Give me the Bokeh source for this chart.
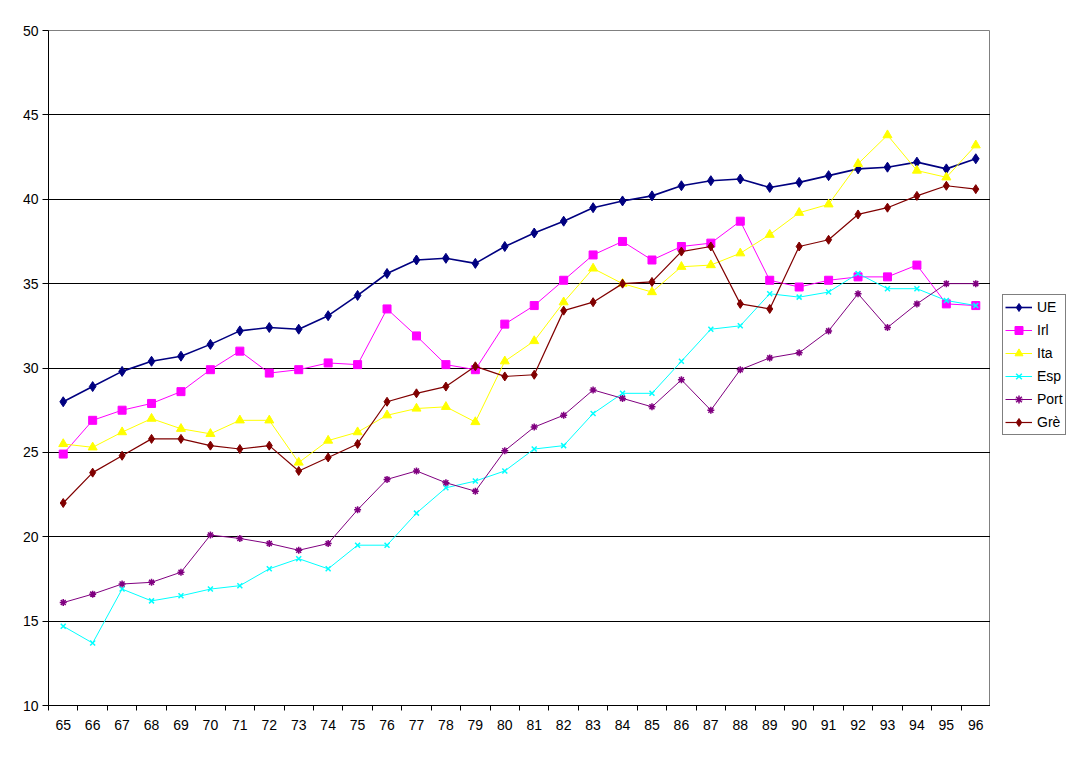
from bokeh.plotting import figure
from bokeh.models import Range1d, FixedTicker, Legend, LegendItem
from bokeh.layouts import row
from bokeh.embed import file_html
from bokeh.resources import INLINE

years = list(range(65, 97))

ue = [28.0, 28.9, 29.8, 30.4, 30.7, 31.4, 32.2, 32.4, 32.3, 33.1, 34.3, 35.6, 36.4, 36.5, 36.2, 37.2,
      38.0, 38.7, 39.5, 39.9, 40.2, 40.8, 41.1, 41.2, 40.7, 41.0, 41.4, 41.8, 41.9, 42.2, 41.8, 42.4]
irl = [24.9, 26.9, 27.5, 27.9, 28.6, 29.9, 31.0, 29.7, 29.9, 30.3, 30.2, 33.5, 31.9, 30.2, 29.9, 32.6,
       33.7, 35.2, 36.7, 37.5, 36.4, 37.2, 37.4, 38.7, 35.2, 34.8, 35.2, 35.4, 35.4, 36.1, 33.8, 33.7]
ita = [25.5, 25.3, 26.2, 27.0, 26.4, 26.1, 26.9, 26.9, 24.4, 25.7, 26.2, 27.2, 27.6, 27.7, 26.8, 30.4,
       31.6, 33.9, 35.9, 35.0, 34.5, 36.0, 36.1, 36.8, 37.9, 39.2, 39.7, 42.1, 43.8, 41.7, 41.3, 43.2]
esp = [14.7, 13.7, 16.9, 16.2, 16.5, 16.9, 17.1, 18.1, 18.7, 18.1, 19.5, 19.5, 21.4, 22.9, 23.3, 23.9,
       25.2, 25.4, 27.3, 28.5, 28.5, 30.4, 32.3, 32.5, 34.4, 34.2, 34.5, 35.6, 34.7, 34.7, 34.0, 33.7]
port = [16.1, 16.6, 17.2, 17.3, 17.9, 20.1, 19.9, 19.6, 19.2, 19.6, 21.6, 23.4, 23.9, 23.2, 22.7, 25.1,
        26.5, 27.2, 28.7, 28.2, 27.7, 29.3, 27.5, 29.9, 30.6, 30.9, 32.2, 34.4, 32.4, 33.8, 35.0, 35.0]
gre = [22.0, 23.8, 24.8, 25.8, 25.8, 25.4, 25.2, 25.4, 23.9, 24.7, 25.5, 28.0, 28.5, 28.9, 30.1, 29.5,
       29.6, 33.4, 33.9, 35.0, 35.1, 36.9, 37.2, 33.8, 33.5, 37.2, 37.6, 39.1, 39.5, 40.2, 40.8, 40.6]

series = [
    ("UE", ue, "#000080", "diamond", 10, 1.6),
    ("Irl", irl, "#FF00FF", "square", 8, 1.0),
    ("Ita", ita, "#FFFF00", "triangle", 9, 1.0),
    ("Esp", esp, "#00FFFF", "x", 7, 1.0),
    ("Port", port, "#800080", "asterisk", 7, 1.0),
    ("Grè", gre, "#800000", "diamond", 9, 1.2),
]

FONT = "Liberation Sans"

p = figure(frame_width=942, frame_height=675, output_backend="svg", toolbar_location=None,
           x_range=Range1d(years[0] - 0.5, years[-1] + 0.5), y_range=Range1d(10, 50),
           min_border_left=48, min_border_top=30, min_border_bottom=50, min_border_right=0,
           background_fill_color="white", border_fill_color="white")
p.outline_line_color = "#808080"
p.outline_line_width = 1

p.xgrid.visible = False
p.ygrid.grid_line_color = "black"
p.ygrid.grid_line_width = 1
p.ygrid.ticker = FixedTicker(ticks=[15, 20, 25, 30, 35, 40, 45, 50])

p.xaxis.ticker = FixedTicker(ticks=years, minor_ticks=[y - 0.5 for y in years] + [years[-1] + 0.5])
p.xaxis.major_tick_out = 5
p.xaxis.major_tick_in = 0
p.xaxis.minor_tick_line_color = "black"
p.xaxis.minor_tick_out = 5
p.xaxis.minor_tick_in = 0
p.xaxis.major_label_standoff = 9

p.yaxis.ticker = FixedTicker(ticks=[10, 15, 20, 25, 30, 35, 40, 45, 50])
p.yaxis.major_tick_out = 6
p.yaxis.major_tick_in = 0
p.yaxis.minor_tick_line_color = None
p.yaxis.major_label_standoff = 4

for ax in (p.xaxis, p.yaxis):
    ax.axis_line_color = "black"
    ax.axis_line_width = 1
    ax.major_label_text_font = FONT
    ax.major_label_text_font_size = "14px"
    ax.major_label_text_color = "black"
p.yaxis.major_tick_line_color = "black"
p.xaxis.major_tick_line_color = None

# legend panel as a separate small figure to the right (its ranges keep the data out of view)
q = figure(width=92, height=755, output_backend="svg", toolbar_location=None,
           x_range=Range1d(0, 1), y_range=Range1d(0, 1),
           min_border_left=0, min_border_right=0, min_border_top=0, min_border_bottom=0,
           background_fill_color="white", border_fill_color="white")
q.axis.visible = False
q.grid.visible = False
q.outline_line_color = None

items = []
for name, vals, color, marker, size, lw in series:
    lwm = 1.5 if marker in ("x", "asterisk") else 1
    p.line(years, vals, line_color=color, line_width=lw)
    p.scatter(years, vals, marker=marker, size=size, fill_color=color, line_color=color, line_width=lwm)
    l1 = q.line(years, vals, line_color=color, line_width=lw)
    l2 = q.scatter(years, vals, marker=marker, size=size, fill_color=color, line_color=color, line_width=lwm)
    items.append(LegendItem(label=name, renderers=[l1, l2]))

legend = Legend(items=items, location=(12, 270), margin=0, padding=2, spacing=3,
                glyph_width=27, glyph_height=20, label_height=20, label_standoff=5,
                label_text_font=FONT, label_text_font_size="14px", label_text_color="black",
                border_line_color="black", border_line_width=1, background_fill_color="white",
                background_fill_alpha=1)
q.add_layout(legend, "center")

layout = row(p, q, spacing=0)
open("out.html", "w").write(file_html(layout, INLINE))
